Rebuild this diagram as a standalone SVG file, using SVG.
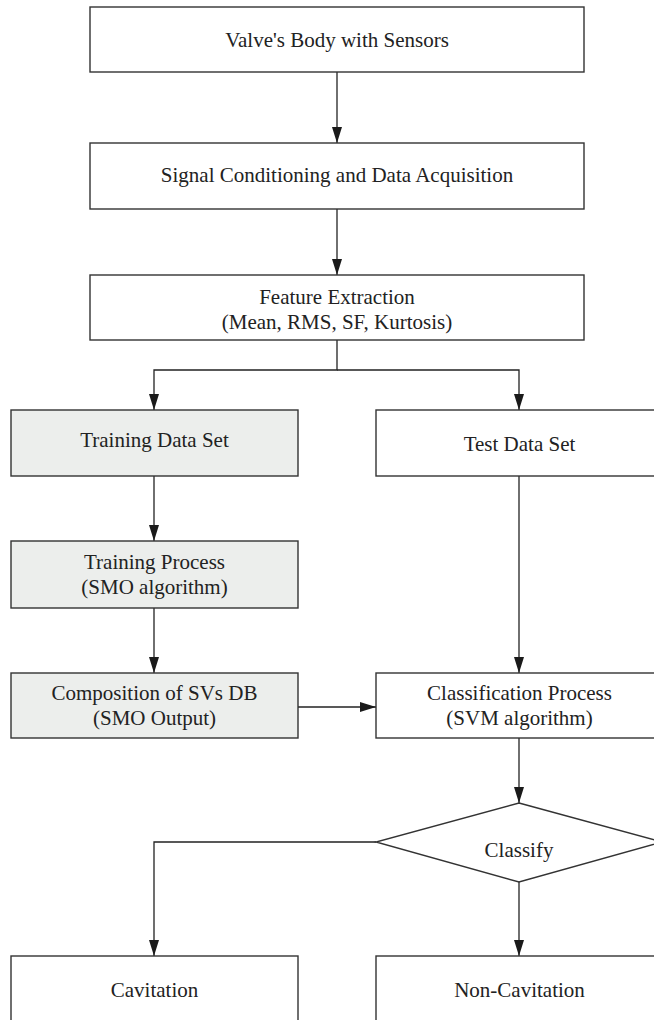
<svg xmlns="http://www.w3.org/2000/svg" width="654" height="1020" viewBox="0 0 654 1020">
<style>
.box{fill:#ffffff;stroke:#333333;stroke-width:1.4}
.gray{fill:#eceeec}
.t{font-family:"Liberation Serif","Times New Roman",serif;font-size:21px;fill:#222222;text-anchor:middle}
.c{fill:none;stroke:#222222;stroke-width:1.3}
</style>
<defs>
<marker id="ah" markerUnits="userSpaceOnUse" markerWidth="16" markerHeight="10" refX="16" refY="5" orient="auto">
<path d="M0,0 L16,5 L0,10 z" fill="#1a1a1a"/>
</marker>
</defs>
<rect width="654" height="1020" fill="#ffffff"/>
<g id="connectors">
<line class="c" x1="337" y1="72" x2="337" y2="143" marker-end="url(#ah)"/>
<line class="c" x1="337" y1="209" x2="337" y2="275" marker-end="url(#ah)"/>
<polyline class="c" points="337,340 337,370 154,370 154,410" marker-end="url(#ah)"/>
<polyline class="c" points="337,370 519,370 519,410" marker-end="url(#ah)"/>
<line class="c" x1="154" y1="476" x2="154" y2="541" marker-end="url(#ah)"/>
<line class="c" x1="154" y1="608" x2="154" y2="673" marker-end="url(#ah)"/>
<line class="c" x1="519" y1="476" x2="519" y2="673" marker-end="url(#ah)"/>
<line class="c" x1="298" y1="707" x2="376" y2="707" marker-end="url(#ah)"/>
<line class="c" x1="519" y1="738" x2="519" y2="803" marker-end="url(#ah)"/>
<polyline class="c" points="376,842 154,842 154,956" marker-end="url(#ah)"/>
<line class="c" x1="519" y1="882" x2="519" y2="956" marker-end="url(#ah)"/>
</g>
<g id="valve">
<rect class="box" x="90" y="7" width="494" height="65"/>
<text class="t" x="337" y="47">Valve's Body with Sensors</text>
</g>
<g id="signal">
<rect class="box" x="90" y="143" width="494" height="66"/>
<text class="t" x="337" y="182">Signal Conditioning and Data Acquisition</text>
</g>
<g id="feature">
<rect class="box" x="90" y="275" width="494" height="65"/>
<text class="t" x="337" y="304">Feature Extraction</text>
<text class="t" x="337" y="329">(Mean, RMS, SF, Kurtosis)</text>
</g>
<g id="training-set">
<rect class="box gray" x="11" y="410" width="287" height="66"/>
<text class="t" x="154.5" y="447">Training Data Set</text>
</g>
<g id="test-set">
<rect class="box" x="376" y="410" width="287" height="66"/>
<text class="t" x="519.5" y="451">Test Data Set</text>
</g>
<g id="training-process">
<rect class="box gray" x="11" y="541" width="287" height="67"/>
<text class="t" x="154.5" y="569">Training Process</text>
<text class="t" x="154.5" y="594">(SMO algorithm)</text>
</g>
<g id="composition">
<rect class="box gray" x="11" y="673" width="287" height="65"/>
<text class="t" x="154.5" y="700">Composition of SVs DB</text>
<text class="t" x="154.5" y="725">(SMO Output)</text>
</g>
<g id="classification">
<rect class="box" x="376" y="673" width="287" height="65"/>
<text class="t" x="519.5" y="700">Classification Process</text>
<text class="t" x="519.5" y="725">(SVM algorithm)</text>
</g>
<g id="classify">
<polygon class="box" points="519,803 662,842 519,882 376,842"/>
<text class="t" x="519" y="857">Classify</text>
</g>
<g id="cavitation">
<rect class="box" x="11" y="956" width="287" height="80"/>
<text class="t" x="154.5" y="997">Cavitation</text>
</g>
<g id="non-cavitation">
<rect class="box" x="376" y="956" width="287" height="80"/>
<text class="t" x="519.5" y="997">Non-Cavitation</text>
</g>
</svg>
